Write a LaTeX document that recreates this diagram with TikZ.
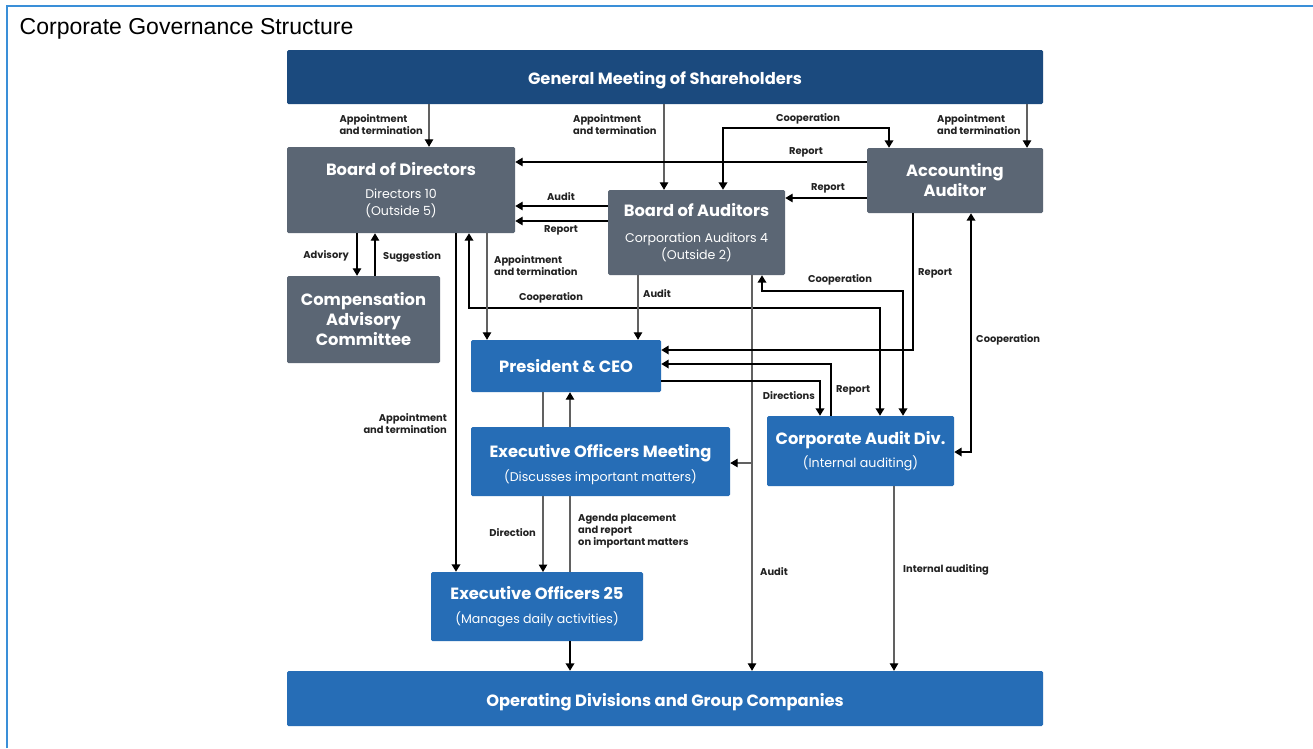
\documentclass[tikz,border=0pt]{standalone}
\usepackage{fontspec}
\setmainfont{Poppins}
\newfontfamily\titlefont{Liberation Sans}
\usetikzlibrary{arrows.meta}

\definecolor{navybox}{HTML}{1B4A7E}
\definecolor{slatebox}{HTML}{5B6674}
\definecolor{bluebox}{HTML}{266DB6}
\definecolor{framec}{HTML}{3A8FD8}
\definecolor{labelc}{HTML}{222222}

\newcommand{\boxtitle}{\fontsize{16.3}{20}\selectfont\bfseries}
\newcommand{\boxtitletight}{\fontsize{16.3}{17}\selectfont\bfseries}
\newcommand{\boxsub}{\fontsize{12.6}{17}\selectfont\mdseries}
\newcommand{\lblfont}{\fontsize{9.9}{12}\selectfont\bfseries}

\tikzset{
  org/.style={rectangle, rounded corners=1.5pt, inner sep=0pt, text=white,
    align=center, font=\boxtitle},
  navyorg/.style={org, fill=navybox},
  slateorg/.style={org, fill=slatebox},
  blueorg/.style={org, fill=bluebox},
  subbed/.style={font=\boxtitletight},
  lowline/.style={text height=15pt, text depth=0pt},
  tip/.style={-{Triangle[length=7.5pt,width=8.5pt,black]}},
  tips/.style={{Triangle[length=7.5pt,width=8.5pt,black]}-{Triangle[length=7.5pt,width=8.5pt,black]}},
  heavy/.style={draw=black, line width=1.9pt},
  medium/.style={draw=black, line width=1.35pt},
  light/.style={draw=black!62, line width=1.1pt},
  lbl/.style={inner sep=0pt, text=labelc, font=\lblfont},
}

\begin{document}
\begin{tikzpicture}[x=1pt,y=-1pt]
\useasboundingbox (0,0) rectangle (1313,748);
\fill[white] (0,0) rectangle (1313,748);

% outer frame and heading
\draw[framec, line width=1.5pt] (7,748) -- (7,6) -- (1313,6);
\node[anchor=west, inner sep=0pt, font=\titlefont\fontsize{23}{26}\selectfont] (heading) at (19.5,29) {Corporate Governance Structure};

% organisation boxes
\node[navyorg, lowline, minimum width=756pt, minimum height=54pt] (gm) at (665,77) {General Meeting of Shareholders};
\node[slateorg, subbed, minimum width=228pt, minimum height=86pt] (bod) at (401,190)
  {Board of Directors\\[6pt] {\boxsub Directors 10}\\ {\boxsub (Outside 5)}};
\node[slateorg, subbed, minimum width=177pt, minimum height=85pt] (boa) at (696.5,232.5)
  {Board of Auditors\\[8.5pt] {\boxsub Corporation Auditors 4}\\ {\boxsub (Outside 2)}};
\node[slateorg, minimum width=176pt, minimum height=65pt] (acc) at (955,180.5)
  {Accounting\\ Auditor};
\node[slateorg, minimum width=153pt, minimum height=87pt] (comp) at (363.5,319.5)
  {Compensation\\ Advisory\\ Committee};
\node[blueorg, minimum width=190pt, minimum height=52pt] (ceo) at (566,366) {President \& CEO};

% lines running behind the executive officers meeting box
\draw[light, tip] (543,0 |- ceo.south) -- (543,572);
\draw[light, tip] (570,572) -- (570,0 |- ceo.south);

\node[blueorg, subbed, minimum width=259pt, minimum height=69pt] (eom) at (600.5,461.5)
  {\rule{0pt}{4pt}\\[-2pt] Executive Officers Meeting\\[6.5pt] {\boxsub (Discusses important matters)}};
\node[blueorg, subbed, minimum width=187pt, minimum height=70pt] (cad) at (860.5,451)
  {Corporate Audit Div.\\[6pt] {\boxsub (Internal auditing)}};
\node[blueorg, subbed, minimum width=212pt, minimum height=69pt] (eo) at (537,606.5)
  {Executive Officers 25\\[6.5pt] {\boxsub (Manages daily activities)}};
\node[blueorg, lowline, minimum width=756pt, minimum height=55pt] (op) at (665,698.5)
  {Operating Divisions and Group Companies};

% appointments by the general meeting
\draw[light, tip] (429,0 |- gm.south) -- (429,0 |- bod.north);
\draw[light, tip] (664,0 |- gm.south) -- (664,0 |- boa.north);
\draw[light, tip] (1027,0 |- gm.south) -- (1027,0 |- acc.north);
\node[lbl, anchor=east, align=left] (l1) at (423,125) {Appointment\\ and termination};
\node[lbl, anchor=west, align=left] (l2) at (573,125) {Appointment\\ and termination};
\node[lbl, anchor=west, align=left] (l3) at (937,125) {Appointment\\ and termination};

% auditors cooperation (top)
\draw[heavy, tips] (723,0 |- boa.north) |- (889,128) -- (889,0 |- acc.north);
\node[lbl] (l4) at (808,118.5) {Cooperation};

% reports and audits towards the board
\draw[medium, tip] (acc.west |- 0,162) -- (bod.east |- 0,162);
\node[lbl] (l5) at (806,152.5) {Report};
\draw[medium, tip] (acc.west |- 0,198) -- (boa.east |- 0,198);
\node[lbl] (l6) at (828,188.5) {Report};
\draw[medium, tip] (boa.west |- 0,206) -- (bod.east |- 0,206);
\node[lbl] (l7) at (561,196.5) {Audit};
\draw[medium, tip] (boa.west |- 0,221) -- (bod.east |- 0,221);
\node[lbl] (l8) at (561,230) {Report};

% compensation committee
\draw[medium, tip] (357,0 |- bod.south) -- (357,0 |- comp.north);
\draw[medium, tip] (375,0 |- comp.north) -- (375,0 |- bod.south);
\node[lbl, anchor=east] (l9) at (349,256) {Advisory};
\node[lbl, anchor=west] (l10) at (383,256.5) {Suggestion};

% board of directors downwards
\draw[heavy, tip] (456,0 |- bod.south) -- (456,0 |- eo.north);
\node[lbl, anchor=east, align=right] (l11) at (447,424) {Appointment\\ and termination};
\draw[heavy, tips] (469,0 |- bod.south) |- (880,308) -- (880,0 |- cad.north);
\node[lbl] (l12) at (551,297.5) {Cooperation};
\draw[light, tip] (487,0 |- bod.south) -- (487,0 |- ceo.north);
\node[lbl, anchor=west, align=left] (l13) at (494,266) {Appointment\\ and termination};

% board of auditors downwards
\draw[light, tip] (638,0 |- boa.south) -- (638,0 |- ceo.north);
\node[lbl, anchor=west] (l14) at (643,293.5) {Audit};
\draw[heavy, tips] (762,0 |- boa.south) |- (903,291) -- (903,0 |- cad.north);
\node[lbl] (l15) at (840,279.5) {Cooperation};
\draw[light, tip] (752,0 |- boa.south) -- (752,0 |- op.north);
\node[lbl, anchor=west] (l16) at (760,572) {Audit};
\coordinate (audbranch) at (752,463);
\draw[light, tip] (audbranch) -- (eom.east |- audbranch);

% accounting auditor
\draw[heavy, tip] (913,0 |- acc.south) |- (ceo.east |- 0,350);
\node[lbl, anchor=west] (l17) at (918,273.5) {Report};
\draw[heavy, tips] (971,0 |- acc.south) |- (cad.east |- 0,452);
\node[lbl, anchor=west] (l18) at (976,339.5) {Cooperation};

% corporate audit division and president
\draw[heavy, tip] (831,0 |- cad.north) |- (ceo.east |- 0,364);
\node[lbl, anchor=west] (l19) at (836,390.5) {Report};
\draw[heavy, tip] (ceo.east |- 0,381) -| (820,0 |- cad.north);
\node[lbl, anchor=east] (l20) at (815,395.5) {Directions};

% executive officers
\node[lbl, anchor=east] (l21) at (536,532.5) {Direction};
\node[lbl, anchor=west, align=left] (l22) at (578,531) {Agenda placement\\ and report\\ on important matters};
\draw[heavy, tip] (570,0 |- eo.south) -- (570,0 |- op.north);

% internal auditing
\draw[light, tip] (894,0 |- cad.south) -- (894,0 |- op.north);
\node[lbl, anchor=west] (l23) at (903,569.5) {Internal auditing};
\end{tikzpicture}
\end{document}
